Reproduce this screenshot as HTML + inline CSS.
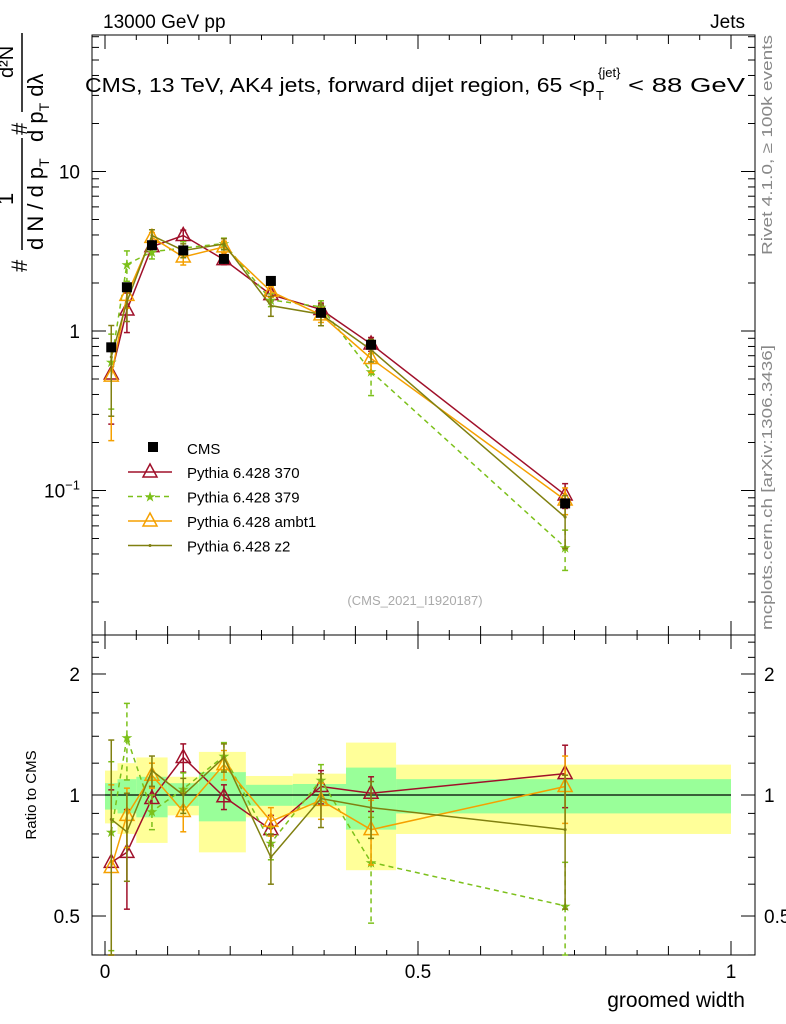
<!DOCTYPE html>
<html><head><meta charset="utf-8"><style>
body{margin:0;background:#fff}
svg{display:block;font-family:"Liberation Sans",Arial,sans-serif}
</style></head><body>
<svg id="c" width="786" height="1024" viewBox="0 0 786 1024" xmlns="http://www.w3.org/2000/svg">
<text x="103" y="28" font-size="19">13000 GeV pp</text>
<text x="745" y="28" font-size="19" text-anchor="end">Jets</text>
<g>
<text x="85" y="92" font-size="20.5" textLength="510" lengthAdjust="spacingAndGlyphs">CMS, 13 TeV, AK4 jets, forward dijet region, 65 &lt;p</text>
<text x="596" y="100" font-size="13">T</text>
<text x="598" y="77" font-size="13">{jet}</text>
<text x="628" y="92" font-size="20.5" textLength="117" lengthAdjust="spacingAndGlyphs">&lt; 88 GeV</text>
</g>
<text transform="translate(772,255) rotate(-90)" font-size="15" fill="#888" textLength="220" lengthAdjust="spacingAndGlyphs">Rivet 4.1.0, ≥ 100k events</text>
<text transform="translate(772,630) rotate(-90)" font-size="15" fill="#888" textLength="285" lengthAdjust="spacingAndGlyphs">mcplots.cern.ch [arXiv:1306.3436]</text>
<text x="415" y="605" font-size="13" fill="#aaa" text-anchor="middle">(CMS_2021_I1920187)</text>
<g font-size="22">
<text transform="translate(27,272) rotate(-90)">#</text>
<line x1="22" x2="22" y1="250" y2="138" stroke="#000" stroke-width="1.5"/>
<text transform="translate(13,205) rotate(-90)">1</text>
<text transform="translate(43,250) rotate(-90)">d N / d p<tspan font-size="14" dy="6">T</tspan></text>
<text transform="translate(27,135) rotate(-90)">#</text>
<line x1="22" x2="22" y1="112" y2="33" stroke="#000" stroke-width="1.5"/>
<text transform="translate(13,78) rotate(-90)" font-size="20">d²N</text>
<text transform="translate(43,142) rotate(-90)">d p<tspan font-size="14" dy="6">T</tspan><tspan dy="-6"> dλ</tspan></text>
</g>
<text transform="translate(36,795) rotate(-90)" font-size="15" text-anchor="middle">Ratio to CMS</text>
<text x="745" y="1007" font-size="21" text-anchor="end">groomed width</text>
<g id="g"></g>
</svg>
<script>
const xCenters=[0.01,0.035,0.075,0.125,0.19,0.265,0.345,0.425,0.735];
const binEdges=[0,0.02,0.05,0.1,0.15,0.225,0.3,0.385,0.465,1.0];
const cmsValues=[0.79,1.88,3.45,3.2,2.83,2.06,1.3,0.82,0.083];
const bandYellowHi=[1.15,1.2,1.24,1.11,1.28,1.115,1.13,1.35,1.19];
const bandYellowLo=[0.85,0.8,0.76,0.89,0.72,0.88,0.88,0.65,0.8];
const bandGreenHi=[1.07,1.095,1.11,1.07,1.14,1.06,1.065,1.17,1.095];
const bandGreenLo=[0.92,0.9,0.88,0.94,0.86,0.94,0.94,0.82,0.9];
const ratio370=[0.68,0.72,0.98,1.24,0.99,0.82,1.05,1.01,1.13];
const ratio379=[0.81,1.39,0.91,1.035,1.25,0.76,1.09,0.68,0.53];
const ratioAmbt1=[0.66,0.89,1.12,0.91,1.19,0.86,0.97,0.82,1.05];
const ratioZ2=[0.87,0.81,1.15,1.0,1.24,0.7,0.98,0.93,0.82];
const err370=[0.35,0.2,0.07,0.1,0.07,0.07,0.1,0.1,0.2];
const err379=[0.4,0.3,0.09,0.1,0.1,0.07,0.1,0.2,0.15];
const errAmbt1=[0.4,0.15,0.08,0.1,0.1,0.07,0.1,0.15,0.2];
const errZ2=[0.5,0.2,0.1,0.1,0.1,0.1,0.15,0.15,0.3];
const seriesNames=["Pythia 6.428 370","Pythia 6.428 379","Pythia 6.428 ambt1","Pythia 6.428 z2"];
const xTickLabels=["0","0.5","1"];

const NS="http://www.w3.org/2000/svg";
const g=document.getElementById('g');
const L=92,R=755,T=35,MB=635,RB=955;
const X=v=>105+v*626;
const Y=v=>331-Math.log10(v)*159.5;
const YR=v=>795-Math.log10(v)*402;
function mk(t,a,p){const e=document.createElementNS(NS,t);for(const k in a)e.setAttribute(k,a[k]);(p||g).appendChild(e);return e;}
function clampM(y){return Math.max(T,Math.min(MB,y));}
function clampR(y){return Math.max(MB,Math.min(RB,y));}

for(let i=0;i<cmsValues.length;i++){
  let r=mk('rect',{x:X(binEdges[i]),y:YR(bandYellowHi[i]),width:X(binEdges[i+1])-X(binEdges[i]),height:YR(bandYellowLo[i])-YR(bandYellowHi[i]),fill:'#ffff99'});
  
  
}
for(let i=0;i<cmsValues.length;i++){
  let r=mk('rect',{x:X(binEdges[i]),y:YR(bandGreenHi[i]),width:X(binEdges[i+1])-X(binEdges[i]),height:YR(bandGreenLo[i])-YR(bandGreenHi[i]),fill:'#99ff99'});
  
  
}
let one=mk('line',{x1:X(0),x2:X(1),y1:YR(1),y2:YR(1),stroke:'#000','stroke-width':1.3});



for(const [y0,y1,nm] of [[T,MB,'main-frame'],[MB,RB,'ratio-frame']]){
  let f=mk('rect',{x:L,y:y0,width:R-L,height:y1-y0,fill:'none',stroke:'#000','stroke-width':1});
  
  
}
for(let k=0;k<=20;k++){
  const v=k*0.05,x=X(v),len=(k%10==0)?14:(k%2==0?9:5);
  for(const [yb,yt] of [[MB,T],[RB,MB]]){
    mk('line',{x1:x,x2:x,y1:yb,y2:yb-len,stroke:'#000'});
    mk('line',{x1:x,x2:x,y1:yt,y2:yt+len,stroke:'#000'});
  }
}
xTickLabels.forEach((s,i)=>{const t=mk('text',{x:X(i*0.5),y:978,'font-size':19,'text-anchor':'middle'});t.textContent=s;
  
  });
for(let d=-2;d<=1;d++){for(let m=1;m<=9;m++){const v=m*Math.pow(10,d),y=Y(v);if(y<T||y>MB)continue;const len=m==1?14:7;
  mk('line',{x1:L,x2:L+len,y1:y,y2:y,stroke:'#000'});mk('line',{x1:R,x2:R-len,y1:y,y2:y,stroke:'#000'});}}
[["10",10],["1",1]].forEach(([s,v])=>{const t=mk('text',{x:80,y:Y(v)+7,'font-size':19,'text-anchor':'end'});t.textContent=s;
  
  });
{const t=mk('text',{x:80,y:Y(0.1)+7,'font-size':19,'text-anchor':'end'});t.innerHTML='10<tspan font-size="13" dy="-8">−1</tspan>';
 
 }
for(let m=4;m<=25;m++){const v=m/10;if(m>10&&m%2)continue;const y=YR(v);if(y<MB||y>RB)continue;const len=(m==5||m==10||m==20)?14:7;
  mk('line',{x1:L,x2:L+len,y1:y,y2:y,stroke:'#000'});mk('line',{x1:R,x2:R-len,y1:y,y2:y,stroke:'#000'});}
[["2",2],["1",1],["0.5",0.5]].forEach(([s,v])=>{for(const [x,a] of [[80,'end'],[764,'start']]){const t=mk('text',{x:x,y:YR(v)+7,'font-size':19,'text-anchor':a});t.textContent=s;
  
  }});

const cols=['#a0102a','#7cc01a','#f5a000','#808010'];
const dashes=['','5,4','',''];
const ratios=[ratio370,ratio379,ratioAmbt1,ratioZ2];
const errs=[err370,err379,errAmbt1,errZ2];
function marker(k,x,y,parent){
  const c=cols[k];
  if(k==0||k==2){mk('polygon',{points:`${x},${y-8} ${x-7},${y+5} ${x+7},${y+5}`,fill:'none',stroke:c,'stroke-width':1.5},parent);}
  else if(k==1){mk('text',{x:x,y:y+5,'font-size':14,'text-anchor':'middle',fill:c},parent).textContent='★';}
  else {mk('circle',{cx:x,cy:y,r:1.5,fill:c},parent);}
}
ratios.forEach((rs,k)=>{
  const grp=mk('g',{});
  
  
  const main=rs.map((r,i)=>[X(xCenters[i]),Y(r*cmsValues[i])]);
  const rat=rs.map((r,i)=>[X(xCenters[i]),YR(r)]);
  for(const [pts,fy,vals,clamp] of [[main,true,(i)=>cmsValues[i],clampM],[rat,false,()=>1,clampR]]){
    mk('polyline',{points:pts.map(p=>p.join(',')).join(' '),fill:'none',stroke:cols[k],'stroke-width':1.5,'stroke-dasharray':dashes[k]},grp);
    rs.forEach((r,i)=>{
      const f=vals(i),yf=fy?Y:YR;
      const hi=clamp(yf((r+errs[k][i])*f)),lo=clamp(yf(Math.max(0.01,r-errs[k][i])*f));
      const x=pts[i][0];
      mk('line',{x1:x,x2:x,y1:hi,y2:lo,stroke:cols[k],'stroke-width':1.5,'stroke-dasharray':dashes[k]},grp);
      mk('line',{x1:x-3,x2:x+3,y1:hi,y2:hi,stroke:cols[k],'stroke-width':1.5},grp);
      mk('line',{x1:x-3,x2:x+3,y1:lo,y2:lo,stroke:cols[k],'stroke-width':1.5},grp);
      marker(k,x,pts[i][1],grp);
    });
  }
});
cmsValues.forEach((v,i)=>{
  const r=mk('rect',{x:X(xCenters[i])-5,y:Y(v)-5,width:10,height:10,fill:'#000'});
  
  
});
const lg=mk('g',{});


mk('rect',{x:148,y:442,width:10,height:10,fill:'#000'},lg);
mk('text',{x:187,y:454,'font-size':15},lg).textContent='CMS';
seriesNames.forEach((s,k)=>{
  const y=472+k*24.5;
  mk('line',{x1:128,x2:172,y1:y,y2:y,stroke:cols[k],'stroke-width':1.5,'stroke-dasharray':dashes[k]},lg);
  marker(k,150,y,lg);
  const t=mk('text',{x:187,y:y+6,'font-size':15},lg);t.textContent=s;
  
  
});
</script>
</body></html>
